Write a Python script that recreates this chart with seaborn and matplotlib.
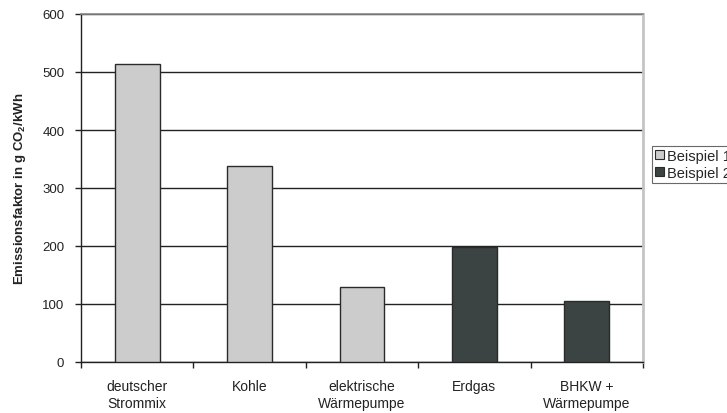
import numpy as np
import pandas as pd
import matplotlib
matplotlib.use("Agg")
import matplotlib.pyplot as plt
import seaborn as sns

categories = ["deutscher\nStrommix", "Kohle", "elektrische\nWärmepumpe", "Erdgas", "BHKW +\nWärmepumpe"]
values = [514, 338, 129, 199, 105]
groups = ["Beispiel 1", "Beispiel 1", "Beispiel 1", "Beispiel 2", "Beispiel 2"]
yticks = [0, 100, 200, 300, 400, 500, 600]

sns.set_theme(style="white")
plt.rcParams['font.family'] = ['Liberation Sans', 'DejaVu Sans']
plt.rcParams['mathtext.fontset'] = 'custom'
plt.rcParams['mathtext.rm'] = 'Liberation Sans'
plt.rcParams['mathtext.bf'] = 'Liberation Sans:bold'

df = pd.DataFrame({"Kategorie": categories, "Wert": values, "Gruppe": groups})

fig = plt.figure(figsize=(7.27, 4.14), dpi=100)
ax = fig.add_axes([81/727, 1-363/414, (643-81)/727, (363-15)/414])

palette = {"Beispiel 1": "#cccccc", "Beispiel 2": "#3b4443"}
sns.barplot(data=df, x="Kategorie", y="Wert", hue="Gruppe", dodge=False,
            palette=palette, width=0.40, edgecolor="#2a2a2a", linewidth=1.0,
            saturation=1, ax=ax, zorder=3)

ax.set_ylim(0, 600)
ax.set_xlim(-0.5, 4.5)
ax.set_yticks(yticks)
ax.set_yticklabels([str(v) for v in yticks], fontsize=9.5, color="#222222")
ax.yaxis.grid(True, color="#222222", linewidth=1.0, zorder=0)
ax.set_axisbelow(True)

ax.set_xticks(range(len(categories)))
ax.set_xticklabels(categories, fontsize=10, color="#222222", linespacing=1.3)
ax.set_xticks(np.arange(-0.5, 5, 1), minor=True)
ax.tick_params(axis='x', which='major', length=0, pad=12)
ax.tick_params(axis='x', which='minor', length=4, width=1, color="#222222", direction='out', bottom=True)
ax.tick_params(axis='y', which='major', length=4, width=1, color="#222222", direction='out', left=True, pad=8)

for s in ["left", "bottom"]:
    ax.spines[s].set_color("#222222")
    ax.spines[s].set_linewidth(1.0)
ax.spines["top"].set_color("#888888")
ax.spines["top"].set_linewidth(1.2)
ax.spines["right"].set_color("#c4c4c4")
ax.spines["right"].set_linewidth(2.0)

ax.set_xlabel("")
ax.set_ylabel(r"Emissionsfaktor in g CO$_\mathbf{2}$/kWh", fontsize=9.5, fontweight="bold",
              color="#222222")
ax.yaxis.set_label_coords(-0.094, 0.5)

leg = ax.legend(loc="upper left", bbox_to_anchor=(652/727, 1-147/414), bbox_transform=fig.transFigure,
                fontsize=10.5, frameon=True, fancybox=False, edgecolor="#444444",
                handlelength=0.6, handleheight=0.6, handletextpad=0.25, borderpad=0.2,
                labelspacing=0.2, borderaxespad=0)
leg.get_frame().set_linewidth(0.8)
for h in leg.legend_handles:
    h.set_edgecolor("#2a2a2a")
    h.set_linewidth(0.8)

fig.savefig("out.png", dpi=100)
